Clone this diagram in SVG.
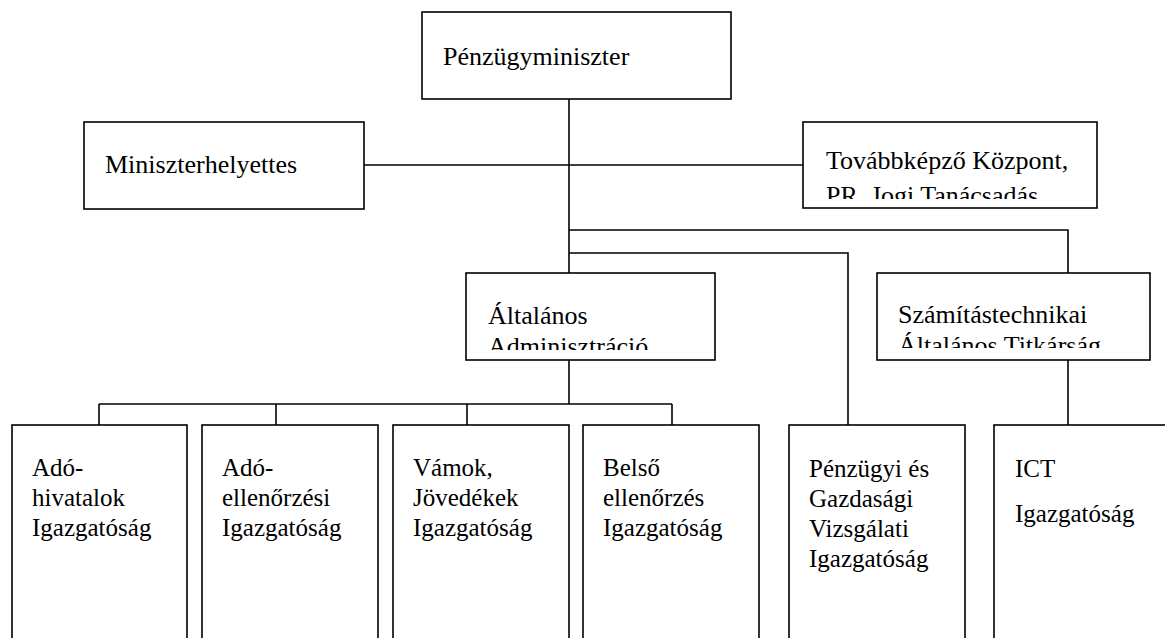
<svg xmlns="http://www.w3.org/2000/svg" width="1165" height="638" viewBox="0 0 1165 638">
  <style>
    .box { fill: #ffffff; stroke: #000000; stroke-width: 1.6; }
    .lbl { font-family: "Liberation Serif", "Times New Roman", serif; font-size: 26px; fill: #000000; }
    .sm { font-size: 25px; }
    .conn { fill: none; stroke: #000000; stroke-width: 1.6; }
  </style>
  <defs>
    <clipPath id="clipTov"><rect x="804" y="123" width="292" height="76"/></clipPath>
    <clipPath id="clipAlt"><rect x="467" y="274" width="248" height="76"/></clipPath>
    <clipPath id="clipSzam"><rect x="878" y="274" width="270" height="74"/></clipPath>
  </defs>
  <rect width="1165" height="638" fill="#ffffff"/>

  <!-- connectors -->
  <g id="connectors">
    <line class="conn" x1="569" y1="99" x2="569" y2="273"/>
    <line class="conn" x1="364" y1="165" x2="803" y2="165"/>
    <polyline class="conn" points="569,230 1068,230 1068,273"/>
    <polyline class="conn" points="569,253 848,253 848,425"/>
    <line class="conn" x1="1068" y1="360" x2="1068" y2="425"/>
    <line class="conn" x1="569" y1="360" x2="569" y2="404"/>
    <line class="conn" x1="99" y1="404" x2="672" y2="404"/>
    <line class="conn" x1="99" y1="404" x2="99" y2="425"/>
    <line class="conn" x1="276" y1="404" x2="276" y2="425"/>
    <line class="conn" x1="467" y1="404" x2="467" y2="425"/>
    <line class="conn" x1="672" y1="404" x2="672" y2="425"/>
  </g>

  <g id="miniszter">
    <rect class="box" x="422" y="12" width="309" height="87"/>
    <text class="lbl" x="443" y="65">Pénzügyminiszter</text>
  </g>

  <g id="helyettes">
    <rect class="box" x="84" y="122" width="280" height="87"/>
    <text class="lbl" x="105" y="173">Miniszterhelyettes</text>
  </g>

  <g id="tovabbkepzo">
    <rect class="box" x="803" y="122" width="294" height="86"/>
    <g clip-path="url(#clipTov)">
      <text class="lbl" x="826" y="169">Továbbképző Központ,</text>
      <text class="lbl" x="826" y="204">PR, Jogi Tanácsadás</text>
    </g>
  </g>

  <g id="altalanos">
    <rect class="box" x="466" y="273" width="249" height="87"/>
    <g clip-path="url(#clipAlt)">
      <text class="lbl" x="488" y="324">Általános</text>
      <text class="lbl" x="488" y="355">Adminisztráció</text>
    </g>
  </g>

  <g id="szamitas">
    <rect class="box" x="877" y="273" width="273" height="87"/>
    <g clip-path="url(#clipSzam)">
      <text class="lbl" x="898" y="323">Számítástechnikai</text>
      <text class="lbl" x="898" y="354">Általános Titkárság</text>
    </g>
  </g>

  <g id="adohivatalok">
    <rect class="box" x="12" y="425" width="175" height="230"/>
    <text class="lbl sm" x="32" y="476">Adó-</text>
    <text class="lbl sm" x="32" y="506">hivatalok</text>
    <text class="lbl sm" x="32" y="536">Igazgatóság</text>
  </g>

  <g id="adoellenorzes">
    <rect class="box" x="202" y="425" width="176" height="230"/>
    <text class="lbl sm" x="222" y="476">Adó-</text>
    <text class="lbl sm" x="222" y="506">ellenőrzési</text>
    <text class="lbl sm" x="222" y="536">Igazgatóság</text>
  </g>

  <g id="vamok">
    <rect class="box" x="393" y="425" width="176" height="230"/>
    <text class="lbl sm" x="413" y="476">Vámok,</text>
    <text class="lbl sm" x="413" y="506">Jövedékek</text>
    <text class="lbl sm" x="413" y="536">Igazgatóság</text>
  </g>

  <g id="belso">
    <rect class="box" x="583" y="425" width="176" height="230"/>
    <text class="lbl sm" x="603" y="476">Belső</text>
    <text class="lbl sm" x="603" y="506">ellenőrzés</text>
    <text class="lbl sm" x="603" y="536">Igazgatóság</text>
  </g>

  <g id="penzugyi">
    <rect class="box" x="789" y="425" width="176" height="230"/>
    <text class="lbl sm" x="809" y="477">Pénzügyi és</text>
    <text class="lbl sm" x="809" y="507">Gazdasági</text>
    <text class="lbl sm" x="809" y="537">Vizsgálati</text>
    <text class="lbl sm" x="809" y="567">Igazgatóság</text>
  </g>

  <g id="ict">
    <rect class="box" x="994" y="425" width="200" height="230"/>
    <text class="lbl sm" x="1015" y="477">ICT</text>
    <text class="lbl sm" x="1015" y="522">Igazgatóság</text>
  </g>
</svg>
